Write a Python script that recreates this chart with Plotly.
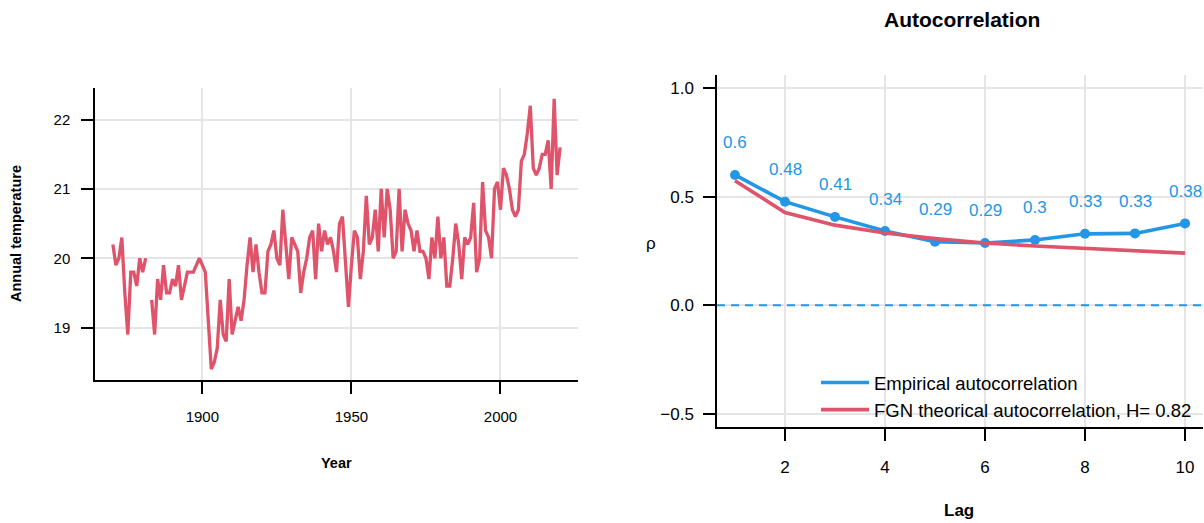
import plotly.graph_objects as go

W, H = 1204, 523


def px(x):
    return x / W


def py(y):
    return (H - y) / H


RED = "#DF536B"
BLUE = "#2297E6"
GRID = "#E5E5E5"
FONT = "Liberation Sans, Arial, sans-serif"

# ---------------- data ----------------
years = list(range(1870, 2021))
temps = [
    20.2, 19.9, 20.0, 20.3, 19.5, 18.9, 19.8, 19.8, 19.6, 20.0,   # 1870-1879
    19.8, 20.0, None, 19.4, 18.9, 19.7, 19.4, 19.9, 19.5, 19.5,   # 1880-1889
    19.7, 19.6, 19.9, 19.4, 19.6, 19.8, 19.8, 19.8, 19.9, 20.0,   # 1890-1899
    19.9, 19.8, 19.1, 18.4, 18.5, 18.7, 19.4, 18.9, 18.8, 19.7,   # 1900-1909
    18.9, 19.1, 19.3, 19.1, 19.4, 19.9, 20.3, 19.8, 20.2, 19.8,   # 1910-1919
    19.5, 19.5, 20.1, 20.2, 20.4, 20.0, 19.9, 20.7, 20.2, 19.7,   # 1920-1929
    20.3, 20.2, 20.1, 19.5, 19.8, 20.0, 20.3, 20.4, 19.7, 20.5,   # 1930-1939
    20.1, 20.4, 20.2, 20.3, 20.1, 19.8, 20.5, 20.6, 20.0, 19.3,   # 1940-1949
    19.9, 20.4, 20.3, 19.7, 20.1, 20.9, 20.2, 20.3, 20.7, 20.1,   # 1950-1959
    21.0, 20.3, 21.0, 20.7, 20.0, 20.1, 21.0, 20.1, 20.7, 20.5,   # 1960-1969
    20.4, 20.1, 20.4, 20.1, 20.1, 20.0, 19.7, 20.3, 20.0, 20.6,   # 1970-1979
    20.0, 20.3, 19.6, 19.6, 20.0, 20.5, 20.2, 19.7, 20.3, 20.2,   # 1980-1989
    20.3, 20.8, 19.8, 20.0, 21.1, 20.4, 20.3, 20.0, 21.0, 21.1,   # 1990-1999
    20.7, 21.3, 21.2, 21.0, 20.7, 20.6, 20.7, 21.4, 21.5, 21.8,   # 2000-2009
    22.2, 21.3, 21.2, 21.3, 21.5, 21.5, 21.7, 21.0, 22.3, 21.2,   # 2010-2019
    21.6,                                                         # 2020
]
year_ticks = [1900, 1950, 2000]
temp_ticks = [19, 20, 21, 22]

lags = list(range(1, 11))
emp_acf = [0.600, 0.477, 0.407, 0.342, 0.293, 0.287, 0.301, 0.329, 0.331, 0.377]
fgn_acf = [0.573, 0.427, 0.369, 0.333, 0.307, 0.287, 0.273, 0.261, 0.250, 0.240]
hurst = 0.82
lag_ticks = [2, 4, 6, 8, 10]
rho_ticks = [-0.5, 0.0, 0.5, 1.0]
rho_lim = [-0.5, 1.0]


def r_range(lo, hi):
    span = hi - lo
    return [lo - 0.04 * span, hi + 0.04 * span]


valid = [t for t in temps if t is not None]

fig = go.Figure()

# left: time series
fig.add_trace(go.Scatter(
    x=years, y=temps, mode="lines", xaxis="x", yaxis="y",
    line=dict(color=RED, width=3.3), connectgaps=False, showlegend=False,
    hoverinfo="skip",
))

# right: autocorrelation
fig.add_trace(go.Scatter(
    x=lags, y=emp_acf, mode="lines", xaxis="x2", yaxis="y2",
    line=dict(color=BLUE, width=3.6),
    name="Empirical autocorrelation", legendrank=1,
))
fig.add_trace(go.Scatter(
    x=lags, y=emp_acf, mode="markers", xaxis="x2", yaxis="y2",
    marker=dict(color=BLUE, size=10), showlegend=False,
))
fig.add_trace(go.Scatter(
    x=lags, y=fgn_acf, mode="lines", xaxis="x2", yaxis="y2",
    line=dict(color=RED, width=3.6),
    name=f"FGN theorical autocorrelation, H= {hurst}", legendrank=2,
))

for l, v in zip(lags, emp_acf):
    fig.add_annotation(
        x=l, y=v, xref="x2", yref="y2", text=f"{round(v, 2):g}",
        showarrow=False, yshift=32, font=dict(color=BLUE, size=17, family=FONT),
    )

fig.add_shape(
    type="line", xref="x2 domain", yref="y2", x0=0, x1=1, y0=0, y1=0,
    line=dict(color=BLUE, width=2, dash="8px,6px"),
)

axis_common = dict(
    showline=True, linecolor="black", linewidth=1.5, mirror=False,
    ticks="outside", ticklen=12, tickwidth=1.5, tickcolor="black",
    showgrid=True, gridcolor=GRID, gridwidth=2, zeroline=False,
    color="black",
)

fig.update_layout(
    width=W, height=H,
    margin=dict(l=0, r=0, t=0, b=0),
    paper_bgcolor="white", plot_bgcolor="white",
    font=dict(family=FONT, color="black"),
    xaxis=dict(
        axis_common, domain=[px(95), px(578)], anchor="y",
        range=r_range(min(years), max(years)), tickvals=year_ticks,
        tickfont=dict(size=15), ticklabelstandoff=10,
    ),
    yaxis=dict(
        axis_common, domain=[py(380), py(88)], anchor="x",
        range=r_range(min(valid), max(valid)), tickvals=temp_ticks,
        tickfont=dict(size=15), ticklabelstandoff=8,
    ),
    xaxis2=dict(
        axis_common, domain=[px(717), px(1203)], anchor="y2",
        range=r_range(min(lags), max(lags)), tickvals=lag_ticks,
        tickfont=dict(size=17), ticklabelstandoff=12,
    ),
    yaxis2=dict(
        axis_common, domain=[py(427), py(75)], anchor="x2",
        range=r_range(*rho_lim), tickvals=rho_ticks, tickformat=".1f",
        tickfont=dict(size=17), ticklabelstandoff=6,
    ),
    legend=dict(
        x=px(816), y=py(364), xanchor="left", yanchor="top",
        bgcolor="rgba(0,0,0,0)", borderwidth=0,
        font=dict(size=18.5, family=FONT), itemwidth=48,
    ),
    annotations=list(fig.layout.annotations) + [
        dict(text="<b>Autocorrelation</b>", x=px(962), y=py(19), xref="paper", yref="paper",
             showarrow=False, xanchor="center", yanchor="middle",
             font=dict(size=21, family=FONT)),
        dict(text="<b>Year</b>", x=px(336), y=py(463), xref="paper", yref="paper",
             showarrow=False, xanchor="center", yanchor="middle",
             font=dict(size=14.5, family=FONT)),
        dict(text="<b>Annual temperature</b>", x=px(16), y=py(234), xref="paper", yref="paper",
             showarrow=False, xanchor="center", yanchor="middle", textangle=-90,
             font=dict(size=14.5, family=FONT)),
        dict(text="<b>Lag</b>", x=px(959), y=py(510), xref="paper", yref="paper",
             showarrow=False, xanchor="center", yanchor="middle",
             font=dict(size=17, family=FONT)),
        dict(text="ρ", x=px(651), y=py(243), xref="paper", yref="paper",
             showarrow=False, xanchor="center", yanchor="middle",
             font=dict(size=17, family=FONT)),
    ],
)

fig.write_html("out.html")
